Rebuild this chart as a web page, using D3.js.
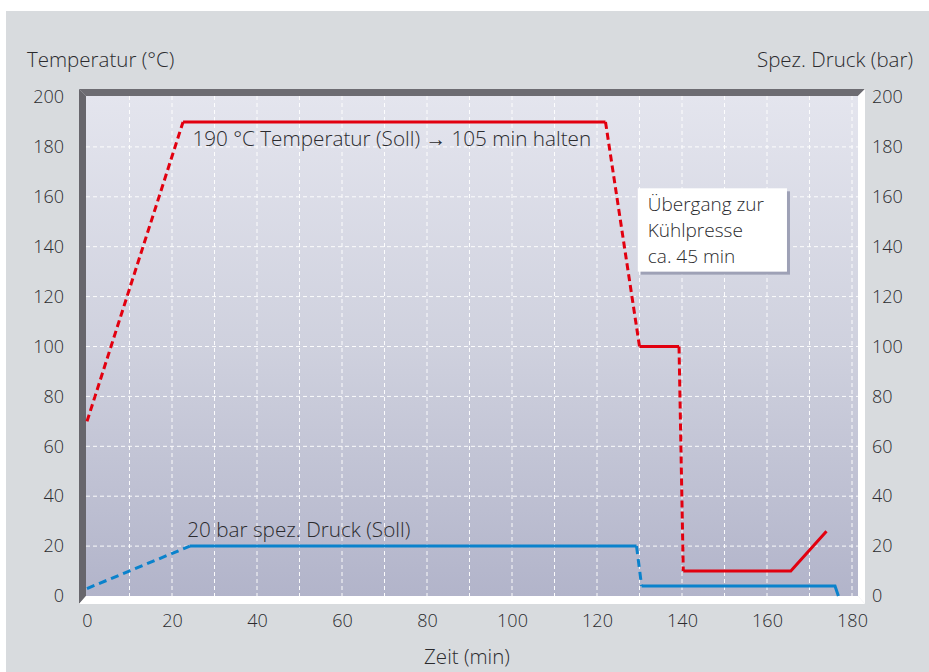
<!DOCTYPE html>
<html>
<head>
<meta charset="utf-8">
<script src="https://cdn.jsdelivr.net/npm/d3@7"></script>
<style>
	html, body { margin: 0; padding: 0; background: #fff; }
	svg { display: block; }
	text { font-family: "Open Sans", "Noto Sans", sans-serif; font-weight: 300; fill: #2b2b2e; }
</style>
</head>
<body>
<div id="chart"></div>
<script>
// Time axis (min) and value axes (°C / bar share the same 0..200 range)
const xTicks = [0, 20, 40, 60, 80, 100, 120, 140, 160, 180];
const yTicks = [0, 20, 40, 60, 80, 100, 120, 140, 160, 180, 200];

// Temperature target curve (Soll); style is per segment
const tempTime = [0, 22.6, 122, 130, 139.3, 140.3, 165.6, 174];
const tempValue = [70, 190, 190, 100, 100, 10, 10, 26];
const tempStyle = ['dash', 'solid', 'dash', 'solid', 'dash', 'solid', 'solid'];

// Specific pressure target curve (Soll)
const pressTime = [0, 24.2, 129.3, 130.5, 176, 176.8];
const pressValue = [3, 20, 20, 4, 4, 0];
const pressStyle = ['dash', 'solid', 'dash', 'solid', 'solid'];

const labels = {
	yLeft: 'Temperatur (°C)',
	yRight: 'Spez. Druck (bar)',
	x: 'Zeit (min)',
	temp: '190 °C Temperatur (Soll) → 105 min halten',
	press: '20 bar spez. Druck (Soll)',
	note: ['Übergang zur', 'Kühlpresse', 'ca. 45 min']
};

(function() {
	const width = 929, height = 672;
	const red = '#e2000f', blue = '#0a82cc';

	const svg = d3.select('#chart').append('svg')
		.attr('width', width)
		.attr('height', height);

	// Grey panel
	svg.append('rect')
		.attr('x', 6).attr('y', 11)
		.attr('width', width - 6).attr('height', height - 11)
		.attr('fill', '#d8dbde');

	const x = d3.scaleLinear().domain([0, 180]).range([87, 852]);
	const y = d3.scaleLinear().domain([0, 200]).range([596, 97]);

	const left = 86, right = 858, top = 96, bottom = 596, d = 7;

	const defs = svg.append('defs');
	const grad = defs.append('linearGradient')
		.attr('id', 'bg').attr('x1', 0).attr('y1', 0).attr('x2', 0).attr('y2', 1);
	grad.append('stop').attr('offset', '0%').attr('stop-color', '#e4e5ee');
	grad.append('stop').attr('offset', '50%').attr('stop-color', '#cfd1de');
	grad.append('stop').attr('offset', '100%').attr('stop-color', '#b2b4ca');

	svg.append('rect')
		.attr('x', left).attr('y', top)
		.attr('width', right - left).attr('height', bottom - top)
		.attr('fill', 'url(#bg)');

	// Box walls
	const poly = function(pts, fill) {
		svg.append('polygon')
			.attr('points', pts.map(function(p) { return p.join(','); }).join(' '))
			.attr('fill', fill);
	};
	poly([[left - d, top - d], [right + d, top - d], [right, top], [left, top]], '#6d6c72');
	poly([[left - d, top - d], [left, top], [left, bottom], [left - d, bottom + 8]], '#67666c');
	poly([[left - d, bottom + 8], [left, bottom], [right, bottom], [right + d, bottom + 8]], '#ffffff');
	poly([[right, top], [right + d, top - d], [right + d, bottom + 8], [right, bottom]], '#ffffff');

	// Grid
	const grid = svg.append('g')
		.attr('stroke', '#ffffff')
		.attr('stroke-width', 1)
		.attr('stroke-dasharray', '4,3')
		.attr('opacity', 0.95);
	d3.range(10, 181, 10).forEach(function(t) {
		grid.append('line')
			.attr('x1', x(t)).attr('x2', x(t))
			.attr('y1', top).attr('y2', bottom);
	});
	yTicks.filter(function(t) { return t > 0 && t < 200; }).forEach(function(t) {
		grid.append('line')
			.attr('x1', left).attr('x2', right)
			.attr('y1', y(t)).attr('y2', y(t));
	});

	// Axes (tick text only)
	const axisFont = '18px';
	const yl = svg.append('g').attr('transform', 'translate(64,0)')
		.call(d3.axisLeft(y).tickValues(yTicks).tickSize(0).tickPadding(0));
	const yr = svg.append('g').attr('transform', 'translate(872,0)')
		.call(d3.axisRight(y).tickValues(yTicks).tickSize(0).tickPadding(0));
	const xa = svg.append('g').attr('transform', 'translate(0,611)')
		.call(d3.axisBottom(x).tickValues(xTicks).tickSize(0).tickPadding(0));
	[yl, yr, xa].forEach(function(g) {
		g.select('.domain').remove();
		g.selectAll('text')
			.style('font-size', axisFont)
			.style('font-family', '"Open Sans", "Noto Sans", sans-serif')
			.style('font-weight', 300)
			.attr('fill', '#2b2b2e');
	});
	xa.selectAll('text').attr('dy', '0.9em');

	svg.append('text').attr('x', 27).attr('y', 67)
		.style('font-size', '20.5px').text(labels.yLeft);
	svg.append('text').attr('x', 913).attr('y', 67)
		.attr('text-anchor', 'end')
		.style('font-size', '20.5px').text(labels.yRight);
	svg.append('text').attr('x', 467).attr('y', 664)
		.attr('text-anchor', 'middle')
		.style('font-size', '20.5px').text(labels.x);

	// Series
	function drawSeries(times, values, styles, color, dash) {
		const line = d3.line()
			.x(function(p) { return x(p[0]); })
			.y(function(p) { return y(p[1]); });
		const g = svg.append('g');
		let i = 0;
		while (i < styles.length) {
			let j = i;
			while (j + 1 < styles.length && styles[j + 1] === styles[i]) j++;
			const pts = [];
			for (let k = i; k <= j + 1; k++) pts.push([times[k], values[k]]);
			g.append('path')
				.attr('d', line(pts))
				.attr('fill', 'none')
				.attr('stroke', color)
				.attr('stroke-width', 3)
				.attr('stroke-linejoin', 'miter')
				.attr('stroke-dasharray', styles[i] === 'dash' ? dash : null);
			i = j + 1;
		}
	}
	drawSeries(pressTime, pressValue, pressStyle, blue, '8,5');
	drawSeries(tempTime, tempValue, tempStyle, red, '7,4');

	// Series labels
	svg.append('text').attr('x', x(24.8)).attr('y', 146)
		.style('font-size', '20.7px').text(labels.temp);
	svg.append('text').attr('x', x(23.6)).attr('y', 537)
		.style('font-size', '20.7px').text(labels.press);

	// Note box
	const bx0 = x(129.6), bx1 = x(164.7), by0 = y(163.4), by1 = y(130);
	svg.append('rect')
		.attr('x', bx0 + 3).attr('y', by0 + 3)
		.attr('width', bx1 - bx0).attr('height', by1 - by0)
		.attr('fill', '#9ea1b6');
	svg.append('rect')
		.attr('x', bx0).attr('y', by0)
		.attr('width', bx1 - bx0).attr('height', by1 - by0)
		.attr('fill', '#ffffff');
	const note = svg.append('text')
		.attr('x', bx0 + 10).attr('y', by0 + 23)
		.style('font-size', '19px');
	labels.note.forEach(function(s, i) {
		note.append('tspan')
			.attr('x', bx0 + 10)
			.attr('dy', i === 0 ? 0 : 26)
			.text(s);
	});
})();
</script>
</body>
</html>
